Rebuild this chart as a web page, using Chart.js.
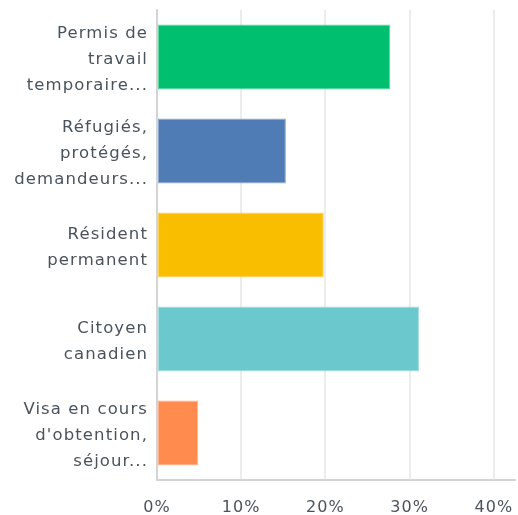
<!DOCTYPE html>
<html>
<head>
<meta charset="utf-8">
<script src="https://cdn.jsdelivr.net/npm/chart.js@4.4.1/dist/chart.umd.min.js"></script>
<style>
  html, body { margin: 0; padding: 0; background: #ffffff; }
  #wrap { width: 518px; height: 515px; position: relative; }
</style>
</head>
<body>
<div id="wrap"><canvas id="chart"></canvas></div>
<script>
// categories (multi-line, as shown on the axis)
const categories = [
  ['Permis de', 'travail', 'temporaire...'],
  ['Réfugiés,', 'protégés,', 'demandeurs...'],
  ['Résident', 'permanent'],
  ['Citoyen', 'canadien'],
  ['Visa en cours', "d'obtention,", 'séjour...']
];
// share of responses, percent
const values = [27.7, 15.3, 19.8, 31.1, 4.9];
const barColors = ['#00bf6f', '#507cb6', '#f9be00', '#6bc8cd', '#ff8b4f'];
const barBorders = ['#5fd6a2', '#8ba8d0', '#fbd35a', '#a3dde0', '#ffb08a'];
const xTicks = [0, 10, 20, 30, 40];

(function() {
  const textColor = '#4a535b';
  const fontFamily = '"DejaVu Sans", "Noto Sans", sans-serif';

  // the original font is widely tracked; mimic it with canvas letter spacing
  const tracking = {
    id: 'tracking',
    beforeLayout(chart) { chart.ctx.letterSpacing = '1.1px'; },
    beforeDraw(chart) { chart.ctx.letterSpacing = '1.1px'; }
  };

  const canvas = document.getElementById('chart');
  new Chart(canvas, {
    type: 'bar',
    data: {
      labels: categories,
      datasets: [{
        data: values,
        backgroundColor: barColors,
        borderColor: barBorders,
        borderWidth: 1,
        borderSkipped: false,
        categoryPercentage: 1,
        barPercentage: 0.69
      }]
    },
    options: {
      indexAxis: 'y',
      responsive: true,
      maintainAspectRatio: false,
      animation: false,
      layout: { padding: { top: 10, right: 3, bottom: 0, left: 0 } },
      plugins: {
        legend: { display: false },
        tooltip: { enabled: false }
      },
      scales: {
        x: {
          min: 0,
          max: 42.5,
          afterBuildTicks: function(scale) {
            scale.ticks = xTicks.map(v => ({ value: v }));
          },
          afterFit: function(scale) {
            scale.height = 35;
            scale.paddingLeft = 0;
            scale.paddingRight = 0;
          },
          grid: { color: '#ececec', lineWidth: 2, drawTicks: false },
          border: { color: '#d4d4d4', width: 2 },
          ticks: {
            color: textColor,
            font: { family: fontFamily, size: 16 },
            padding: 18,
            callback: v => v + '%'
          }
        },
        y: {
          afterFit: function(scale) {
            scale.width = 157;
            scale.paddingTop = 0;
            scale.paddingBottom = 0;
          },
          grid: { display: false, drawTicks: false },
          border: { color: '#d4d4d4', width: 2 },
          ticks: {
            color: textColor,
            font: { family: fontFamily, size: 16.5, lineHeight: 1.58 },
            padding: 9,
            labelOffset: 3
          }
        }
      }
    },
    plugins: [tracking]
  });
})();
</script>
</body>
</html>
